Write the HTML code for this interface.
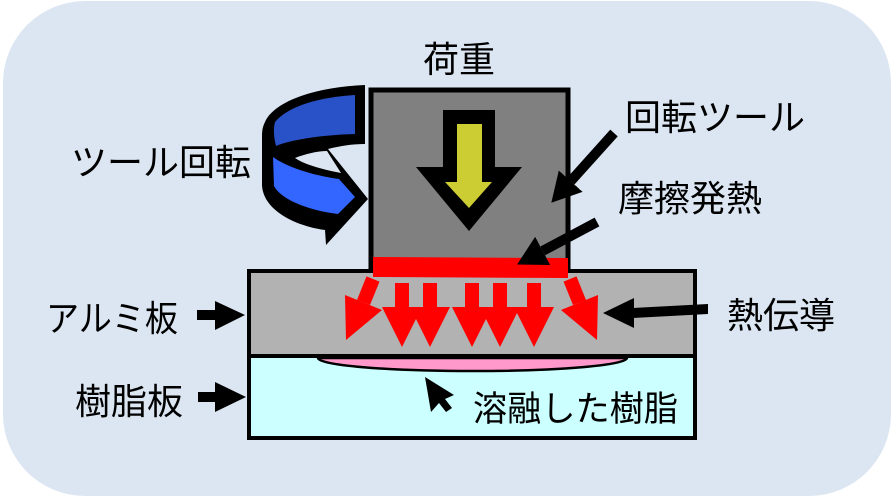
<!DOCTYPE html>
<html><head><meta charset="utf-8">
<style>
html,body{margin:0;padding:0;background:#ffffff;}
body{width:894px;height:498px;overflow:hidden;}
svg{display:block;}
text{font-family:"Liberation Sans","Noto Sans CJK JP",sans-serif;fill:#000;}
</style></head>
<body>
<svg width="894" height="498" viewBox="0 0 894 498" xmlns="http://www.w3.org/2000/svg">
<defs>
<marker id="ah" markerUnits="userSpaceOnUse" markerWidth="30" markerHeight="34" refX="0" refY="16" orient="auto">
<path d="M0,0 L29,16 L0,32 Z" fill="#000"/>
</marker>
</defs>
<!-- background -->
<rect x="3" y="1" width="888" height="495" rx="82" ry="82" fill="#dce6f2"/>

<!-- resin plate -->
<rect x="249" y="356" width="446" height="82" fill="#ccffff" stroke="#000" stroke-width="4"/>
<!-- aluminium plate -->
<rect x="249" y="271" width="446" height="85" fill="#b2b2b2" stroke="#000" stroke-width="4"/>
<!-- molten resin -->
<path d="M318,358 A154,13 0 0 0 627,358 Z" fill="#ff99cc" stroke="#000" stroke-width="2.5"/>
<rect x="316" y="355" width="314" height="3" fill="#000"/>

<!-- tool -->
<rect x="371" y="90" width="197" height="180" fill="#808080" stroke="#000" stroke-width="5"/>
<!-- red friction band -->
<polygon points="373,257 568,258 568,278 373,277" fill="#ff0000"/>

<!-- load arrow -->
<polygon points="443,110 495,110 495,167 522,167 469,231 416,167 443,167" fill="#000"/>
<polygon points="457,124 482,124 482,182 492,182 469,208 445,182 457,182" fill="#cccc33"/>

<!-- red heat arrows -->
<g fill="#ff0000">
<polygon points="366.5,276.4 379.5,281.6 370,305 357,300"/>
<polygon points="345,295 382,310 346,340"/>
<polygon points="576.5,276.4 563.5,281.6 573,305 586,300"/>
<polygon points="598,295 561,310 597,340"/>
<rect x="395" y="283" width="14" height="26"/>
<polygon points="382,307 422,307 402,347"/>
<rect x="423" y="283" width="14" height="26"/>
<polygon points="410,307 450,307 430,347"/>
<rect x="465" y="283" width="14" height="26"/>
<polygon points="452,307 492,307 472,347"/>
<rect x="493" y="283" width="14" height="26"/>
<polygon points="480,307 520,307 500,347"/>
<rect x="527" y="283" width="14" height="26"/>
<polygon points="514,307 554,307 534,347"/>
</g>

<!-- rotation arrow -->
<path d="M365,85 C318,87 275,100 265,122 C262,128 262,132 262,138 L262,185 C263,210 295,226 325,230 L326,245 L368,199 L328,149 C340,146 352,144 365,144 Z" fill="#000"/>
<path d="M295,158 C305,154 318,151 327,151 L341,173 C325,170 305,165 295,158 Z" fill="#dce6f2"/>
<path d="M355,95 C320,97 288,106 275,122 C273,130 274,138 276,146 C290,140 320,135 355,134 Z" fill="#2a52c8"/>
<path d="M273,157 C285,166 310,175 339,179 L355,197 L338,214 C305,210 280,198 274,186 Z" fill="#3366ff"/>

<!-- label arrows -->
<line x1="614" y1="133" x2="570.7" y2="181.2" stroke="#000" stroke-width="10" marker-end="url(#ah)"/>
<line x1="597" y1="222" x2="542.7" y2="250.9" stroke="#000" stroke-width="10" marker-end="url(#ah)"/>
<polygon points="708,304 708,314 633,318 633,308" fill="#000"/>
<polygon points="634,298 603,313 634,328" fill="#000"/>
<rect x="197" y="310" width="20" height="10" fill="#000"/>
<polygon points="215,301 245,315 215,330" fill="#000"/>
<rect x="198" y="392" width="19" height="10" fill="#000"/>
<polygon points="215,382 246,397 215,412" fill="#000"/>
<!-- small cursor arrow -->
<polygon points="425,377 454,395 445,399 452,408 446,412 439,403 431,412" fill="#000"/>

<!-- labels -->
<text x="423" y="72" font-size="36">荷重</text>
<text x="71" y="175" font-size="36">ツール回転</text>
<text x="625" y="130" font-size="36">回転ツール</text>
<text x="618" y="211" font-size="36">摩擦発熱</text>
<text x="46" y="331" font-size="36" textLength="132" lengthAdjust="spacingAndGlyphs">アルミ板</text>
<text x="727" y="328" font-size="36">熱伝導</text>
<text x="75" y="414" font-size="36">樹脂板</text>
<text x="473" y="421" font-size="35" textLength="205" lengthAdjust="spacingAndGlyphs">溶融した樹脂</text>
</svg>
</body></html>
